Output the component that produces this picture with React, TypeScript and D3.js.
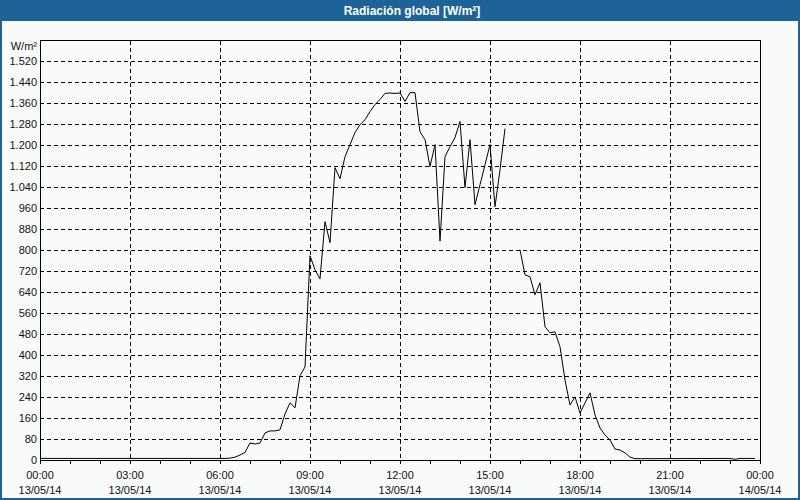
import React from "react";
import * as d3 from "d3";

const title = "Radiación global [W/m²]";
const unitLabel = "W/m²";
const dateLabels = ["13/05/14", "13/05/14", "13/05/14", "13/05/14", "13/05/14", "13/05/14", "13/05/14", "13/05/14", "14/05/14"];
const hourLabels = ["00:00", "03:00", "06:00", "09:00", "12:00", "15:00", "18:00", "21:00", "00:00"];
const yTicks = [0, 80, 160, 240, 320, 400, 480, 560, 640, 720, 800, 880, 960, 1040, 1120, 1200, 1280, 1360, 1440, 1520];

const times = [
  "00:00", "06:00", "06:10", "06:20", "06:30", "06:40", "06:50",
  "07:00", "07:10", "07:20", "07:30", "07:40", "07:50",
  "08:00", "08:10", "08:20", "08:30", "08:40", "08:50",
  "09:00", "09:10", "09:20", "09:30", "09:40", "09:50",
  "10:00", "10:10", "10:20", "10:30", "10:40", "10:50",
  "11:00", "11:10", "11:20", "11:30", "11:40", "11:50",
  "12:00", "12:10", "12:20", "12:30", "12:40", "12:50",
  "13:00", "13:10", "13:20", "13:30", "13:40", "13:50",
  "14:00", "14:10", "14:20", "14:30", "14:40", "14:50",
  "15:00", "15:10", "15:20", "15:30", "15:40", "15:50",
  "16:00", "16:10", "16:20", "16:30", "16:40", "16:50",
  "17:00", "17:10", "17:20", "17:30", "17:40", "17:50",
  "18:00", "18:10", "18:20", "18:30", "18:40", "18:50",
  "19:00", "19:10", "19:20", "19:30", "19:40", "19:50",
  "23:00", "23:10", "23:20", "23:50",
];
const values: (number | null)[] = [
  6, 6, 6, 7, 11, 19, 29,
  65, 61, 65, 103, 111, 111,
  115, 176, 218, 199, 321, 355,
  779, 726, 691, 909, 829, 1115,
  1073, 1157, 1203, 1249, 1279, 1298,
  1329, 1356, 1375, 1398, 1400, 1398,
  1400, 1368, 1401, 1401, 1252, 1222,
  1119, 1203, 835, 1157, 1195, 1230,
  1291, 1039, 1222, 974, 1050, 1126,
  1203, 966, 1107, 1264, null, null,
  802, 706, 699, 630, 676, 508,
  485, 489, 432, 305, 210, 241,
  179, 218, 256, 172, 122, 95,
  76, 42, 38, 27, 11, 5,
  6, 3, 6, 6,
];

const W = 800, H = 500;
const L = 40, R = 760, T = 40.5, B = 460;
const BLUE = "#1e6397";
const FONT = "'Liberation Sans', Arial, sans-serif";

const toHours = (s: string) => {
  const [h, m] = s.split(":").map(Number);
  return h + m / 60;
};
const fmt = (v: number) => d3.format(",")(v).replace(/,/g, ".");

export default function App() {
  const x = d3.scaleLinear().domain([0, 24]).range([L, R]);
  const y = d3.scaleLinear().domain([0, 1600]).range([B, T]);
  const data = times.map((t, i) => ({ t: toHours(t), v: values[i] }));
  const line = d3
    .line<{ t: number; v: number | null }>()
    .defined((d) => d.v !== null)
    .x((d) => x(d.t))
    .y((d) => y(d.v as number));
  const hourTicks = d3.range(0, 25, 1);
  const majorTicks = d3.range(0, 25, 3);

  return (
    <svg width={W} height={H} style={{ position: "absolute", left: 0, top: 0 }} fontFamily={FONT}>
      <rect x={0} y={0} width={W} height={H} fill={BLUE} />
      <rect x={2} y={21} width={W - 4} height={H - 23} fill="#f9fbfb" />
      <text x={412} y={15} textAnchor="middle" fill="#fff" fontWeight="bold" fontSize={12}>
        {title}
      </text>
      {yTicks.filter((v) => v > 0).map((v) => (
        <line key={"h" + v} x1={L} x2={R} y1={Math.round(y(v)) + 0.5} y2={Math.round(y(v)) + 0.5}
          stroke="#000" strokeDasharray="4,3" shapeRendering="crispEdges" />
      ))}
      {majorTicks.filter((h) => h > 0 && h < 24).map((h) => (
        <line key={"v" + h} x1={Math.round(x(h)) + 0.5} x2={Math.round(x(h)) + 0.5} y1={T} y2={B}
          stroke="#000" strokeDasharray="4,3" shapeRendering="crispEdges" />
      ))}
      <rect x={L + 0.5} y={T} width={R - L} height={B - T} fill="none" stroke="#000" shapeRendering="crispEdges" />
      {hourTicks.map((h) => (
        <line key={"t" + h} x1={Math.round(x(h)) + 0.5} x2={Math.round(x(h)) + 0.5} y1={B} y2={B + 4}
          stroke="#000" shapeRendering="crispEdges" />
      ))}
      {majorTicks.map((h, i) => (
        <g key={"xl" + h} fontSize={11} fill="#111" textAnchor="middle">
          <text x={x(h)} y={479}>{hourLabels[i]}</text>
          <text x={x(h)} y={494}>{dateLabels[i]}</text>
        </g>
      ))}
      {yTicks.map((v) => (
        <text key={"yl" + v} x={37} y={y(v) + 4} textAnchor="end" fontSize={11} fill="#111">
          {fmt(v)}
        </text>
      ))}
      <text x={37} y={50} textAnchor="end" fontSize={11} fill="#111">{unitLabel}</text>
      <path d={line(data) || ""} fill="none" stroke="#000" strokeWidth={1} />
    </svg>
  );
}
